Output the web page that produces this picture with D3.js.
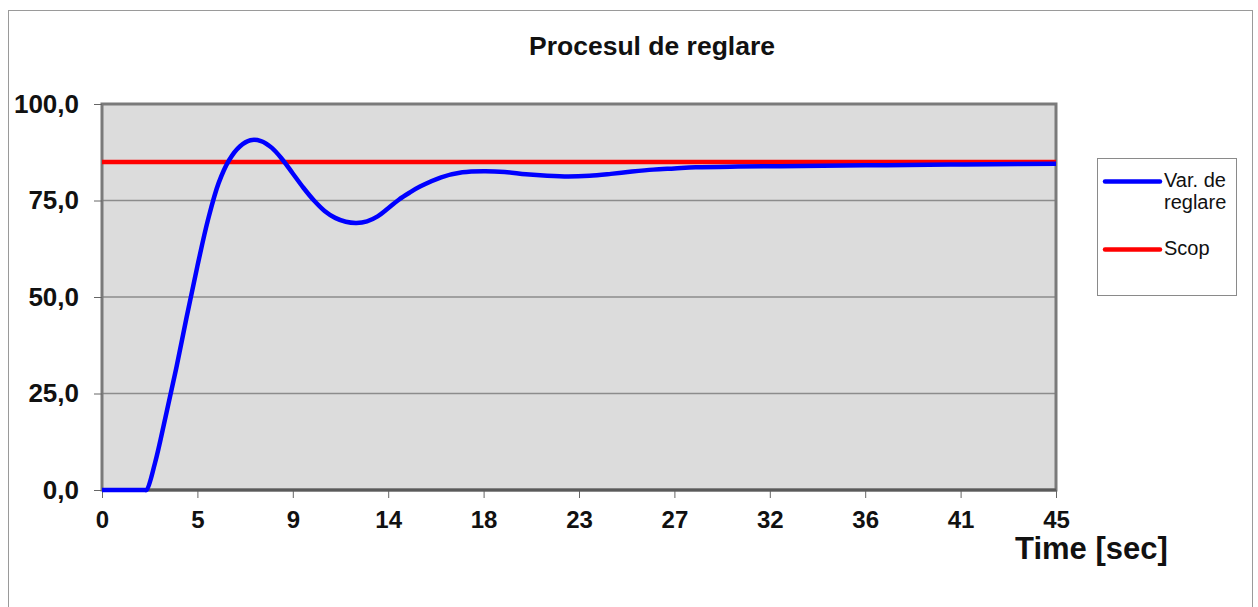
<!DOCTYPE html>
<html>
<head>
<meta charset="utf-8">
<script src="https://cdn.jsdelivr.net/npm/d3@7"></script>
<style>
  html, body { margin: 0; padding: 0; background: #fff; }
  svg { display: block; font-family: "Liberation Sans", Arial, sans-serif; }
</style>
</head>
<body>
<svg id="chart" width="1258" height="607"></svg>
<script>
// Process variable response (time in seconds, value in %)
const timeSec = [0, 1, 2, 2.1, 2.5, 3, 3.5, 4, 4.5, 5, 5.5, 6, 6.5, 7, 7.5, 8, 8.5, 9, 9.5, 10,
  10.5, 11, 11.5, 12, 12.5, 13, 13.5, 14, 14.5, 15, 16, 17, 18, 19, 20, 21, 22, 23, 24, 25,
  26, 27, 28, 30, 32, 34, 36, 38, 40, 42, 45];
const processValue = [0, 0, 0, 0, 7, 19, 31.5, 45, 58, 70, 79.5, 85.5, 89, 90.6, 90.4, 88.7, 85.7, 82, 78.3, 75,
  72.3, 70.5, 69.5, 69.2, 69.6, 70.9, 73, 75.2, 77, 78.6, 81, 82.3, 82.6, 82.4, 81.8, 81.4, 81.2, 81.4, 81.9, 82.5,
  83, 83.3, 83.6, 83.8, 83.9, 84.0, 84.1, 84.2, 84.3, 84.4, 84.5];
// Setpoint
const setpointTime = [0, 45];
const setpointValue = [85, 85];

const xTickValues = [0, 4.5, 9, 13.5, 18, 22.5, 27, 31.5, 36, 40.5, 45];
const xTickLabels = ["0", "5", "9", "14", "18", "23", "27", "32", "36", "41", "45"];
const yTickValues = [0, 25, 50, 75, 100];

const seriesNames = ["Var. de reglare", "Scop"];
const seriesColors = ["#0000ff", "#ff0000"];

const svg = d3.select("#chart");

// outer chart frame
svg.append("rect")
  .attr("x", 8.5).attr("y", 10.5).attr("width", 1244).attr("height", 610)
  .attr("fill", "#fff").attr("stroke", "#9a9a9a").attr("stroke-width", 1);

const x = d3.scaleLinear().domain([0, 45]).range([102, 1056]);
const y = d3.scaleLinear().domain([0, 100]).range([490, 104]);

const locale = d3.formatLocale({ decimal: ",", thousands: ".", grouping: [3], currency: ["", ""] });
const fmt = locale.format(".1f");

// plot area
svg.append("rect")
  .attr("x", x(0)).attr("y", y(100))
  .attr("width", x(45) - x(0)).attr("height", y(0) - y(100))
  .attr("fill", "#dcdcdc");

// horizontal gridlines
svg.append("g")
  .selectAll("line")
  .data(yTickValues.filter(v => v > 0 && v < 100))
  .join("line")
  .attr("x1", x(0)).attr("x2", x(45))
  .attr("y1", d => y(d)).attr("y2", d => y(d))
  .attr("stroke", "#8c8c8c").attr("stroke-width", 1.3);

// plot border
svg.append("rect")
  .attr("x", x(0)).attr("y", y(100))
  .attr("width", x(45) - x(0)).attr("height", y(0) - y(100))
  .attr("fill", "none").attr("stroke", "#7a7a7a").attr("stroke-width", 3);

// y axis
const yAxis = svg.append("g")
  .attr("transform", `translate(${x(0)},0)`)
  .call(d3.axisLeft(y).tickValues(yTickValues).tickFormat(fmt).tickSize(8).tickPadding(15));
yAxis.select(".domain").remove();
yAxis.selectAll(".tick line").attr("stroke", "#666").attr("stroke-width", 1);
yAxis.selectAll(".tick text")
  .attr("font-size", 26).attr("font-weight", "bold").attr("fill", "#111")
  .attr("font-family", "'Liberation Sans', Arial, sans-serif");

// x axis
const xAxis = svg.append("g")
  .attr("transform", `translate(0,${y(0)})`)
  .call(d3.axisBottom(x).tickValues(xTickValues).tickFormat((d, i) => xTickLabels[i]).tickSize(8).tickPadding(13));
xAxis.select(".domain").remove();
xAxis.selectAll(".tick line").attr("stroke", "#666").attr("stroke-width", 1);
xAxis.selectAll(".tick text")
  .attr("font-size", 24).attr("font-weight", "bold").attr("fill", "#111")
  .attr("font-family", "'Liberation Sans', Arial, sans-serif");

// bottom axis line
svg.append("line")
  .attr("x1", x(0)).attr("x2", x(45)).attr("y1", y(0)).attr("y2", y(0))
  .attr("stroke", "#5a5a5a").attr("stroke-width", 3);

const line = d3.line().x(d => x(d[0])).y(d => y(d[1]));

// setpoint line
svg.append("path")
  .datum(setpointTime.map((t, i) => [t, setpointValue[i]]))
  .attr("d", line)
  .attr("fill", "none").attr("stroke", seriesColors[1]).attr("stroke-width", 4.5);

// process variable
svg.append("path")
  .datum(timeSec.map((t, i) => [t, processValue[i]]))
  .attr("d", d3.line().x(d => x(d[0])).y(d => y(Math.max(0, d[1]))).curve(d3.curveCatmullRom.alpha(0.5)))
  .attr("fill", "none").attr("stroke", seriesColors[0]).attr("stroke-width", 4.5)
  .attr("stroke-linejoin", "round");

// title
svg.append("text")
  .attr("x", 652).attr("y", 55)
  .attr("text-anchor", "middle")
  .attr("font-size", 26.5).attr("font-weight", "bold").attr("fill", "#111")
  .text("Procesul de reglare");

// x axis title
svg.append("text")
  .attr("x", 1015).attr("y", 559)
  .attr("font-size", 31).attr("font-weight", "bold").attr("fill", "#111")
  .text("Time [sec]");

// legend
const legend = svg.append("g");
legend.append("rect")
  .attr("x", 1097.5).attr("y", 158.5).attr("width", 139).attr("height", 137)
  .attr("fill", "#fff").attr("stroke", "#8a8a8a").attr("stroke-width", 1);

const legendRows = [
  { lineY: 181.5, lines: ["Var. de", "reglare"], textY: 187 },
  { lineY: 249.5, lines: ["Scop"], textY: 255 }
];
legendRows.forEach((r, i) => {
  legend.append("line")
    .attr("x1", 1105).attr("x2", 1160).attr("y1", r.lineY).attr("y2", r.lineY)
    .attr("stroke", seriesColors[i]).attr("stroke-width", 4.5)
    .attr("stroke-linecap", "round");
  const t = legend.append("text")
    .attr("x", 1164).attr("y", r.textY)
    .attr("font-size", 20).attr("fill", "#111")
    .attr("aria-label", seriesNames[i]);
  r.lines.forEach((s, j) => {
    t.append("tspan").attr("x", 1164).attr("dy", j === 0 ? 0 : 22).text(s);
  });
});
</script>
</body>
</html>
